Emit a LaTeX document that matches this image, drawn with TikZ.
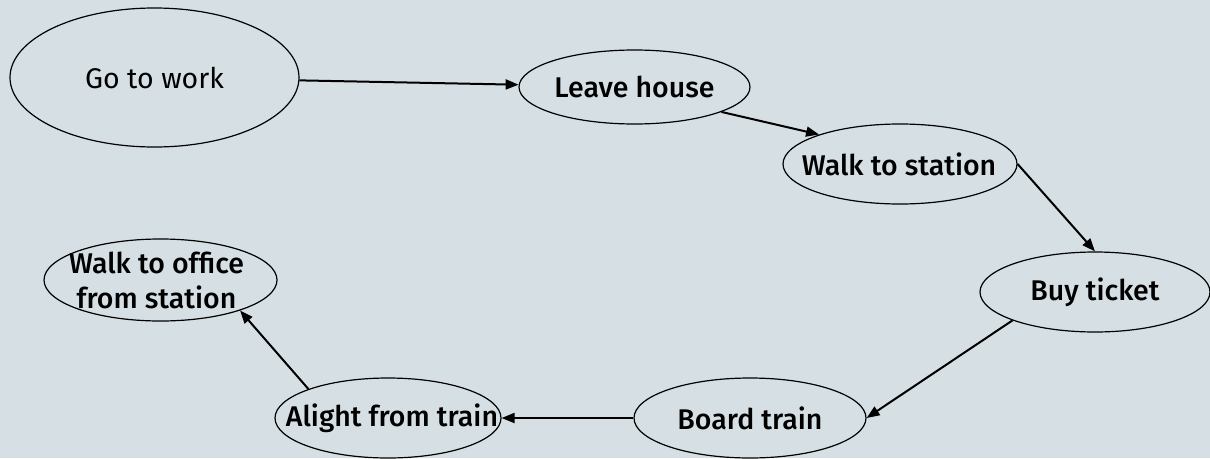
\documentclass[tikz,border=0pt]{standalone}
\usepackage{fontspec}
\setmainfont{Fira Sans}
\newfontfamily\medf{Fira Sans Medium}
\usetikzlibrary{shapes.geometric,arrows.meta}
\definecolor{bgc}{RGB}{214,224,228}
\tikzset{
  ell/.style={ellipse, draw=black, line width=1.2pt, inner sep=0pt},
  lbl/.style={inner sep=0pt, align=center, font=\medf\fontsize{28.5}{35}\selectfont},
  conn/.style={draw=black, line width=2pt, -{Triangle[length=13pt,width=10pt]}}
}
\begin{document}
\begin{tikzpicture}[x=1pt,y=-1pt]
\fill[bgc] (0,0) rectangle (1210,458);
\useasboundingbox (0,0) rectangle (1210,458);
\node[ell, minimum width=289pt, minimum height=139pt] (gw) at (154.5,77.5) {};
\node[ell, minimum width=231pt, minimum height=74pt] (lh) at (634.5,87) {};
\node[ell, minimum width=234pt, minimum height=80pt] (ws) at (900,164) {};
\node[ell, minimum width=230pt, minimum height=80pt] (bt) at (1095,292) {};
\node[ell, minimum width=232pt, minimum height=80pt] (bd) at (750,418) {};
\node[ell, minimum width=226pt, minimum height=80pt] (al) at (388,418) {};
\node[ell, minimum width=233pt, minimum height=82pt] (wo) at (160.5,280) {};
\node[lbl, font=\fontsize{28.5}{35}\selectfont] (tgw) at (gw.center) {Go to work};
\node[lbl] (tlh) at (lh.center) {Leave house};
\node[lbl] (tws) at ([xshift=-1pt]ws.center) {Walk to station};
\node[lbl] (tbt) at (bt.center) {Buy ticket};
\node[lbl] (tbd) at (bd.center) {Board train};
\node[lbl] (tal) at ([xshift=4pt]al.center) {Alight from train};
\node[lbl] (two) at ([xshift=-4pt]wo.center) {Walk to office\\from station};
\draw[conn] (gw) -- (lh);
\draw[conn] (lh.-16) -- (ws.160);
\draw[conn] (ws.0) -- (bt.90);
\draw[conn] (bt.-161) -- (bd.0);
\draw[conn] (bd.180) -- (al.0);
\draw[conn] (al.160) -- (wo.-21);
\end{tikzpicture}
\end{document}
